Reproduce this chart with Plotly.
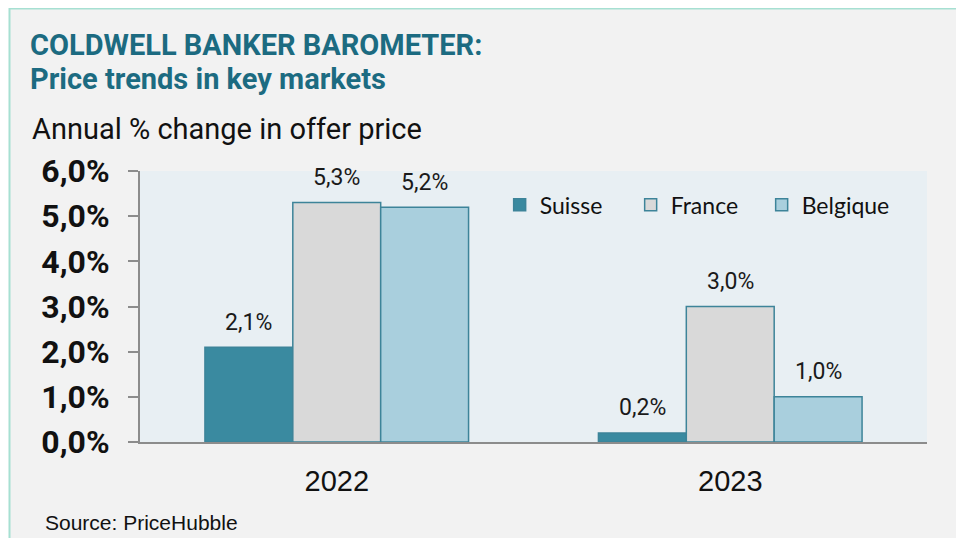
import plotly.graph_objects as go

years = ["2022", "2023"]
suisse = [2.1, 0.2]
france = [5.3, 3.0]
belgique = [5.2, 1.0]
y_ticks = [0, 1, 2, 3, 4, 5, 6]
y_tick_labels = ["0,0%", "1,0%", "2,0%", "3,0%", "4,0%", "5,0%", "6,0%"]

series = [
    ("Suisse", suisse, "#3a8aa0"),
    ("France", france, "#d9d9d9"),
    ("Belgique", belgique, "#a9cfdd"),
]

# page has an 8px body margin, so the figure is offset by 8px
ML, MT = 132, 163
PW, PH = 787, 271
MR = 964 - (ML + PW)
MB = 538 - (MT + PH)
bargap = 0.33
bar_px = PW / len(years) * (1 - bargap) / len(series)

fig = go.Figure()
annotations = []
for i, (name, vals, color) in enumerate(series):
    fig.add_trace(go.Bar(
        name=name, x=years, y=vals,
        marker=dict(color=color, line=dict(color="#3d8499", width=1.5)),
    ))
    for j, v in enumerate(vals):
        annotations.append(dict(
            x=j, y=v, xref="x", yref="y", xshift=(i - 1) * bar_px, yshift=25,
            text=f"{v:.1f}".replace(".", ",") + "%", showarrow=False,
            xanchor="center", yanchor="middle",
            font=dict(family="Roboto, sans-serif", size=23, color="#1a1a1a"),
        ))

annotations += [
    dict(text="<b>COLDWELL BANKER BAROMETER:</b>", xref="paper", yref="paper",
         x=-112/PW, y=1 + (171 - 45)/PH, xanchor="left", yanchor="middle",
         showarrow=False, font=dict(family="Roboto, sans-serif", size=29, color="#1c6b81")),
    dict(text="<b>Price trends in key markets</b>", xref="paper", yref="paper",
         x=-112/PW, y=1 + (171 - 79)/PH, xanchor="left", yanchor="middle",
         showarrow=False, font=dict(family="Roboto, sans-serif", size=29, color="#1c6b81")),
    dict(text="Annual % change in offer price", xref="paper", yref="paper",
         x=-110/PW, y=1 + (171 - 129)/PH, xanchor="left", yanchor="middle",
         showarrow=False, font=dict(family="Roboto, sans-serif", size=29, color="#111")),
    dict(text="Source: PriceHubble", xref="paper", yref="paper",
         x=-97/PW, y=-(522 - 442)/PH, xanchor="left", yanchor="middle",
         showarrow=False, font=dict(family="Liberation Sans, Arial, sans-serif", size=21, color="#111")),
]

fig.update_layout(
    width=964, height=538,
    barmode="group", bargap=bargap, bargroupgap=0,
    paper_bgcolor="white",
    plot_bgcolor="#e8eff3",
    margin=dict(l=ML, r=MR, t=MT, b=MB, autoexpand=False),
    showlegend=True,
    legend=dict(
        orientation="h", x=0.457, y=0.875, xanchor="left", yanchor="middle",
        bgcolor="rgba(0,0,0,0)",
        font=dict(family="Lato, sans-serif", size=23, color="#111"),
        entrywidth=86, entrywidthmode="pixels",
        traceorder="normal",
    ),
    shapes=[
        dict(type="rect", xref="paper", yref="paper", layer="below",
             x0=-(ML - 1.5)/PW, x1=1 + 80/PW,
             y0=-(MB + 20)/PH, y1=1 + (MT - 0.5)/PH,
             fillcolor="#f2f2f2", line=dict(color="#a6e0d2", width=2)),
        dict(type="rect", xref="paper", yref="paper", layer="below",
             x0=0, x1=1, y0=0, y1=1,
             fillcolor="#e8eff3", line=dict(width=0)),
    ],
    annotations=annotations,
)

fig.update_yaxes(
    range=[0, 6], tickvals=y_ticks, ticktext=y_tick_labels,
    showgrid=False, zeroline=False,
    showline=True, linecolor="#8c8c8c", linewidth=2,
    ticks="outside", ticklen=10, tickcolor="#8c8c8c", tickwidth=2,
    ticklabelstandoff=12,
    tickfont=dict(family="Roboto, sans-serif", size=32, color="#111", weight="bold"),
)
fig.update_xaxes(
    type="category", range=[-0.5, len(years) - 0.5],
    showgrid=False, showline=True, linecolor="#8c8c8c", linewidth=2,
    ticks="", ticklabelstandoff=12,
    tickfont=dict(family="Liberation Sans, Arial, sans-serif", size=29, color="#111"),
)

fig.write_html("out.html")
